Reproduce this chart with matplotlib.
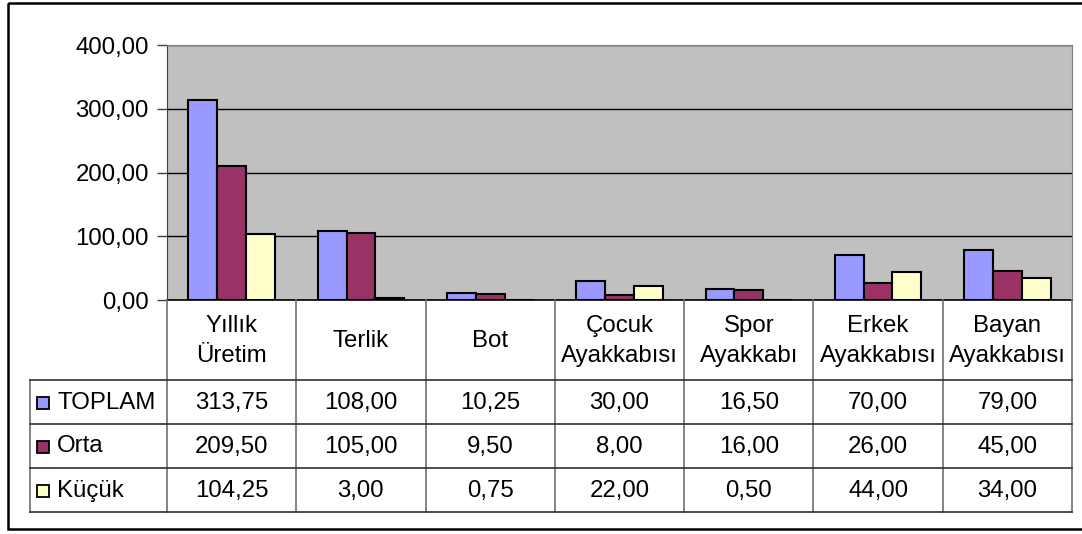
import numpy as np
import matplotlib.pyplot as plt
from matplotlib.patches import Rectangle

plt.rcParams['font.family'] = ['Liberation Sans', 'DejaVu Sans']

# data
categories = ['Yıllık\nÜretim', 'Terlik', 'Bot', 'Çocuk\nAyakkabısı', 'Spor\nAyakkabı',
              'Erkek\nAyakkabısı', 'Bayan\nAyakkabısı']
series_names = ['TOPLAM', 'Orta', 'Küçük']
toplam = [313.75, 108.00, 10.25, 30.00, 16.50, 70.00, 79.00]
orta = [209.50, 105.00, 9.50, 8.00, 16.00, 26.00, 45.00]
kucuk = [104.25, 3.00, 0.75, 22.00, 0.50, 44.00, 34.00]
colors = ['#9999FF', '#993366', '#FFFFCC']

W, H = 1082, 534
fig = plt.figure(figsize=(W / 100, H / 100), dpi=100)
fs = 17.3

# plot area in pixels
L, R, T, B = 167, 1072, 45, 300
ax = fig.add_axes([L / W, 1 - B / H, (R - L) / W, (B - T) / H])
ax.set_facecolor('#C0C0C0')

x = np.arange(len(categories))
bw = 0.223
for i, vals in enumerate([toplam, orta, kucuk]):
    ax.bar(x + (i - 1) * bw, vals, bw, color=colors[i], edgecolor='black',
           linewidth=1.5, zorder=3)

ax.set_xlim(-0.5, len(categories) - 0.5)
ax.set_ylim(0, 400)
ax.set_yticks([0, 100, 200, 300, 400])
ax.set_yticklabels([f'{v:.2f}'.replace('.', ',') for v in [0, 100, 200, 300, 400]],
                   fontsize=fs)
ax.tick_params(axis='y', length=7, width=1, color='#404040', pad=6)
ax.set_xticks([])
ax.grid(axis='y', color='black', linewidth=1, zorder=1)
for s in ['top', 'right']:
    ax.spines[s].set_color('#808080')
ax.spines['left'].set_color('#404040')
ax.spines['bottom'].set_color('black')
ax.spines['bottom'].set_linewidth(1.2)

# overlay for table and border, pixel coordinates
ov = fig.add_axes([0, 0, 1, 1], zorder=5)
ov.set_xlim(0, W)
ov.set_ylim(H, 0)
ov.axis('off')
ov.patch.set_alpha(0)

# outer border
ov.add_patch(Rectangle((8, 3), W, 526, fill=False, edgecolor='black', linewidth=1.8))

n = len(categories)
col_edges = [L + i * (R - L) / n for i in range(n + 1)]
row_lines = [380, 423.5, 467.5, 511.5]
tbl_left = 30

for xe in col_edges:
    ov.plot([xe, xe], [B, row_lines[-1]], color='#707070', lw=1.2)
ov.plot([tbl_left, tbl_left], [row_lines[0], row_lines[-1]], color='#707070', lw=1.2)
for yl in row_lines:
    ov.plot([tbl_left, R], [yl, yl], color='#303030', lw=1.2)

# header cells
for i, c in enumerate(categories):
    xc = (col_edges[i] + col_edges[i + 1]) / 2
    ov.text(xc, (B + row_lines[0]) / 2 + 1, c, ha='center', va='center',
            fontsize=fs, linespacing=1.45)

# data rows
for r, (name, vals) in enumerate(zip(series_names, [toplam, orta, kucuk])):
    yc = (row_lines[r] + row_lines[r + 1]) / 2
    ov.add_patch(Rectangle((37, yc - 5), 12, 12, facecolor=colors[r],
                           edgecolor='black', linewidth=1.3))
    ov.text(57, yc + 1, name, ha='left', va='center', fontsize=fs)
    for i, v in enumerate(vals):
        xc = (col_edges[i] + col_edges[i + 1]) / 2
        ov.text(xc, yc + 1, f'{v:.2f}'.replace('.', ','), ha='center', va='center',
                fontsize=fs)

fig.savefig('out.png', dpi=100)
